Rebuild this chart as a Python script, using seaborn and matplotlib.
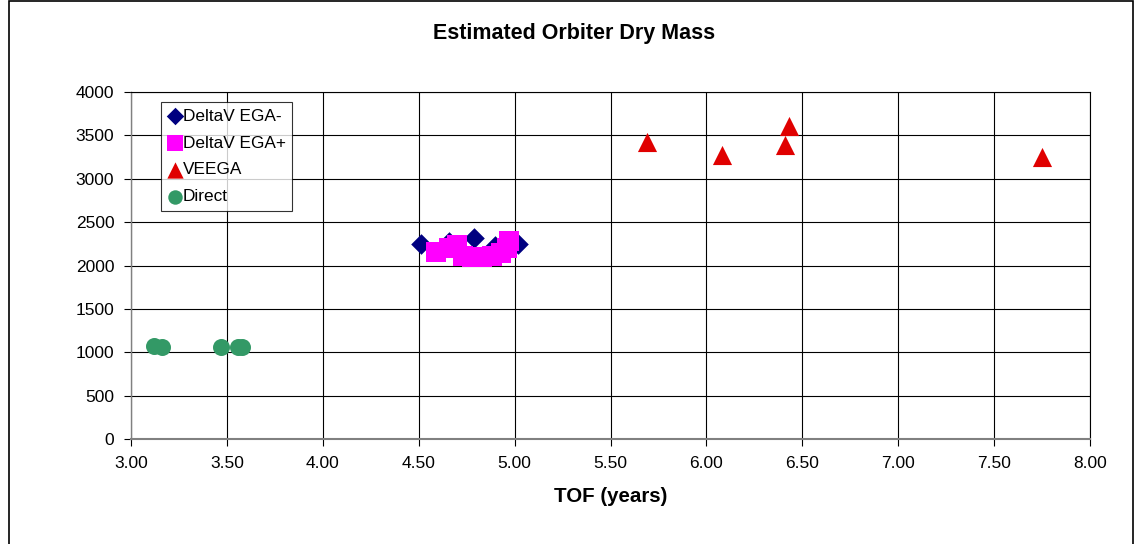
import numpy as np
import pandas as pd
import matplotlib
matplotlib.use("Agg")
import matplotlib.pyplot as plt
import seaborn as sns
from matplotlib.patches import Rectangle

# ---- data ----
ega_minus_tof = [4.51, 4.66, 4.79, 4.90, 5.02]
ega_minus_mass = [2250, 2270, 2320, 2230, 2250]

ega_plus_tof = [4.59, 4.66, 4.70, 4.73, 4.78, 4.83, 4.88, 4.93, 4.96, 4.97]
ega_plus_mass = [2150, 2200, 2240, 2110, 2100, 2100, 2110, 2140, 2200, 2280]

veega_tof = [5.69, 6.08, 6.43, 6.41, 7.75]
veega_mass = [3424, 3274, 3608, 3389, 3251]

direct_tof = [3.12, 3.16, 3.47, 3.56, 3.58]
direct_mass = [1070, 1058, 1060, 1060, 1060]

series_names = ["DeltaV EGA-", "DeltaV EGA+", "VEEGA", "Direct"]
x_ticks = [3.0, 3.5, 4.0, 4.5, 5.0, 5.5, 6.0, 6.5, 7.0, 7.5, 8.0]
y_ticks = [0, 500, 1000, 1500, 2000, 2500, 3000, 3500, 4000]

sns.set_theme(style="white")
plt.rcParams['font.family'] = ['Liberation Sans', 'DejaVu Sans']
plt.rcParams['text.color'] = 'black'
plt.rcParams['axes.labelcolor'] = 'black'

fig = plt.figure(figsize=(11.35, 5.44), dpi=100)
ax = fig.add_axes([131/1135, 1-439/544, (1090-131)/1135, (439-92)/544])

datasets = [
    (ega_minus_tof, ega_minus_mass, "D", "#000080", 110),
    (ega_plus_tof, ega_plus_mass, "s", "#FF00FF", 190),
    (veega_tof, veega_mass, "^", "#E00000", 190),
    (direct_tof, direct_mass, "o", "#339966", 150),
]
for name, (xs, ys, mk, col, s) in zip(series_names, datasets):
    df = pd.DataFrame({"TOF": xs, "Mass": ys})
    sns.scatterplot(data=df, x="TOF", y="Mass", ax=ax, marker=mk, color=col,
                    s=s, linewidth=0, label=name, zorder=3, clip_on=False)

ax.set_xlim(3.0, 8.0)
ax.set_ylim(0, 4000)
ax.set_xticks(x_ticks)
ax.set_xticklabels([f"{v:.2f}" for v in x_ticks], fontsize=12.5)
ax.set_yticks(y_ticks)
ax.set_yticklabels([str(v) for v in y_ticks], fontsize=12.5)
ax.grid(True, color="black", linewidth=0.8)
ax.set_axisbelow(True)
for sp in ["top", "right"]:
    ax.spines[sp].set_visible(True)
    ax.spines[sp].set_color("black")
    ax.spines[sp].set_linewidth(0.8)
ax.spines["left"].set_color("#808080")
ax.spines["bottom"].set_color("#808080")
ax.spines["left"].set_linewidth(1.0)
ax.spines["bottom"].set_linewidth(1.5)
ax.tick_params(axis="both", direction="out", length=5, width=0.8, color="black",
               bottom=True, left=True, pad=7, labelcolor="black")

ax.set_xlabel("TOF (years)", fontsize=14.8, fontweight="bold", labelpad=12,
              color="black")
ax.set_ylabel("")
fig.text(0.506, 1-34/544, "Estimated Orbiter Dry Mass", ha="center", va="center",
         fontsize=15.5, fontweight="bold", color="black")

leg = ax.legend(loc="upper left", bbox_to_anchor=((161-131)/959, 1-(102-92)/347),
                fontsize=12.4, frameon=True, fancybox=False, edgecolor="black",
                handletextpad=0.05, handlelength=0.8, borderpad=0.4,
                labelspacing=0.68, markerscale=0.85, borderaxespad=0)
leg.get_frame().set_linewidth(0.8)
for t in leg.get_texts():
    t.set_color("black")

# outer chart border
fig.patches.append(Rectangle((9/1135, -0.1), (1133-9)/1135, 1.1 - 1/544,
                             transform=fig.transFigure, fill=False,
                             edgecolor="black", linewidth=1.2))

fig.savefig("out.png", dpi=100, facecolor="white")
